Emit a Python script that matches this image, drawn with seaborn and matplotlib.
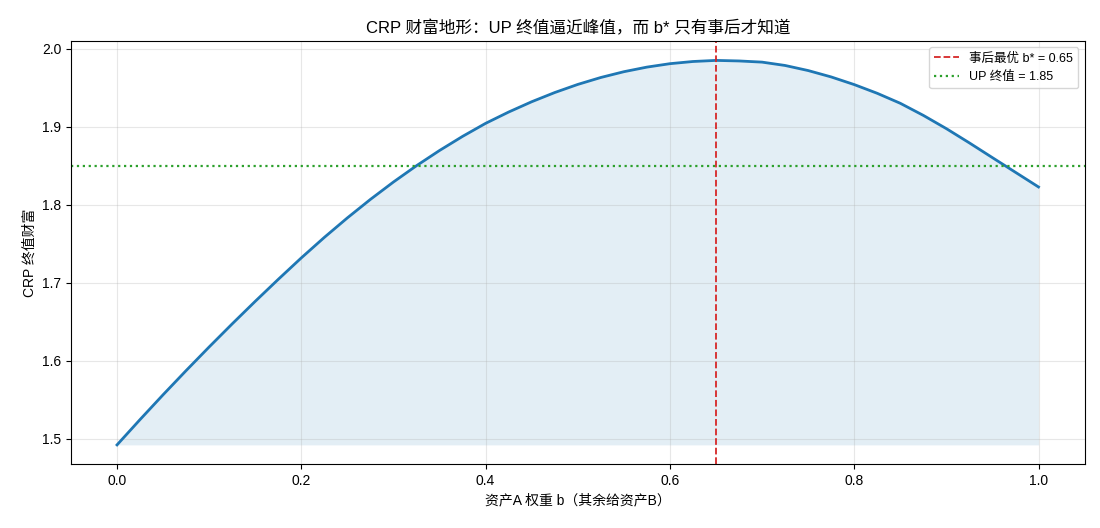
import numpy as np
import pandas as pd
import matplotlib
matplotlib.use("Agg")
import matplotlib.pyplot as plt
import seaborn as sns

# CRP weight b on asset A and terminal wealth
b_vals = [0.000, 0.025, 0.050, 0.075, 0.100, 0.125, 0.150, 0.175, 0.200, 0.225,
          0.250, 0.275, 0.300, 0.325, 0.350, 0.375, 0.400, 0.425, 0.450, 0.475,
          0.500, 0.525, 0.550, 0.575, 0.600, 0.625, 0.650, 0.675, 0.700, 0.725,
          0.750, 0.775, 0.800, 0.825, 0.850, 0.875, 0.900, 0.925, 0.950, 0.975, 1.000]
wealth = [1.4920, 1.5245, 1.5563, 1.5873, 1.6176, 1.6472, 1.6761, 1.7043, 1.7318, 1.7581,
          1.7831, 1.8068, 1.8291, 1.8500, 1.8695, 1.8876, 1.9043, 1.9188, 1.9320, 1.9438,
          1.9542, 1.9631, 1.9705, 1.9764, 1.9808, 1.9836, 1.9850, 1.9843, 1.9828, 1.9785,
          1.9720, 1.9638, 1.9540, 1.9428, 1.9300, 1.9145, 1.8975, 1.8792, 1.8603, 1.8415, 1.8227]
b_star = 0.65
up_final = 1.85

plt.rcParams['font.family'] = ['Liberation Sans', 'Noto Sans CJK SC', 'DejaVu Sans']
plt.rcParams['axes.unicode_minus'] = False

df = pd.DataFrame({"b": b_vals, "W": wealth})

fig, ax = plt.subplots(figsize=(11, 5.28), dpi=100)
sns.lineplot(data=df, x="b", y="W", ax=ax, color="#1f77b4", linewidth=2)
ax.fill_between(df["b"], df["W"], min(wealth), color="#1f77b4", alpha=0.12, linewidth=0)
ax.axvline(b_star, color="#d62728", linestyle="--", linewidth=1.3, label=f"事后最优 b* = {b_star:.2f}")
ax.axhline(up_final, color="#2ca02c", linestyle=":", linewidth=1.6, label=f"UP 终值 = {up_final:.2f}")

ax.set_title("CRP 财富地形：UP 终值逼近峰值，而 b* 只有事后才知道", fontsize=12)
ax.set_xlabel("资产A 权重 b（其余给资产B）", fontsize=10)
ax.set_ylabel("CRP 终值财富", fontsize=10)
ax.grid(True, alpha=0.3)
ax.legend(loc="upper right", fontsize=9)

plt.subplots_adjust(left=0.0645, right=0.986, top=0.922, bottom=0.121)
plt.savefig("out.png", dpi=100)
plt.close()
